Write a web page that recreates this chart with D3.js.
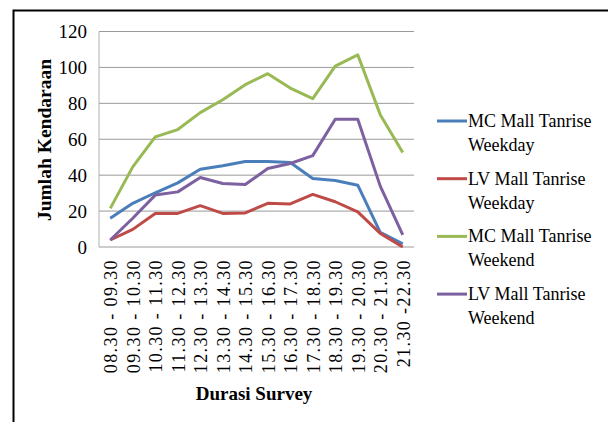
<!DOCTYPE html>
<html><head><meta charset="utf-8">
<script src="https://cdn.jsdelivr.net/npm/d3@7"></script>
<style>html,body{margin:0;padding:0;background:#fff;}svg{display:block;}
svg text{font-family:"Liberation Serif","Times New Roman",serif;}</style>
</head><body>
<script>
const categories = ["08.30 - 09.30","09.30 - 10.30","10.30 - 11.30","11.30 - 12.30","12.30 - 13.30","13.30 - 14.30","14.30 - 15.30","15.30 - 16.30","16.30 - 17.30","17.30 - 18.30","18.30 - 19.30","19.30 - 20.30","20.30 - 21.30","21.30 -22.30"];
const mcWeekday = [16, 24.3, 30.2, 35.7, 43.3, 45.2, 47.6, 47.6, 47, 38.1, 37, 34.4, 8.1, 1.7];
const lvWeekday = [3.9, 9.8, 18.7, 18.7, 23, 18.7, 19, 24.3, 24, 29.3, 25.2, 19.6, 7.6, 0];
const mcWeekend = [21.5, 44.6, 61.3, 65.4, 74.8, 82, 90.4, 96.5, 88.5, 82.6, 100.7, 107, 73.7, 52.6];
const lvWeekend = [3.9, 16, 28.9, 30.7, 38.7, 35.4, 34.8, 43.7, 46.5, 50.9, 71.1, 71.1, 33.9, 6.7];
const seriesNames = [["MC Mall Tanrise","Weekday"],["LV Mall Tanrise","Weekday"],["MC Mall Tanrise","Weekend"],["LV Mall Tanrise","Weekend"]];
const seriesColors = ["#4A7EBB","#BE4B48","#98B954","#7D60A0"];
const yTicks = [0,20,40,60,80,100,120];
const series = [mcWeekday, lvWeekday, mcWeekend, lvWeekend];

(function(){
const W = 608, H = 422;
const svg = d3.select("body").append("svg").attr("width", W).attr("height", H);
svg.append("rect").attr("width", W).attr("height", H).attr("fill", "#fff");
// frame
svg.append("path").attr("d", `M13.5,${H} V10.5 H${W}`).attr("fill","none").attr("stroke","#000").attr("stroke-width",2);

const pLeft = 99, pRight = 414, pTop = 31.5, pBottom = 247;
const x = d3.scalePoint().domain(categories).range([pLeft, pRight]).padding(0.5);
const y = d3.scaleLinear().domain([0,120]).range([pBottom, pTop]);

// gridlines
svg.append("g").selectAll("line").data(yTicks).join("line")
  .attr("x1", pLeft).attr("x2", pRight).attr("y1", d=>y(d)).attr("y2", d=>y(d))
  .attr("stroke", "#9a9a9a").attr("stroke-width", 1);
svg.append("line").attr("x1", pLeft).attr("x2", pLeft).attr("y1", pTop).attr("y2", pBottom)
  .attr("stroke", "#b0b0b0").attr("stroke-width", 1);

// y axis labels
const yAxis = d3.axisLeft(y).tickValues(yTicks).tickSize(0).tickPadding(12);
const gy = svg.append("g").attr("transform", `translate(${pLeft},0)`).call(yAxis);
gy.select(".domain").remove();
gy.attr("font-family", null).attr("font-size", null);
gy.selectAll("text").style("font-size", "19px").attr("fill", "#000");

// x axis labels
const xAxis = d3.axisBottom(x).tickSize(0).tickPadding(0);
const gx = svg.append("g").attr("transform", `translate(0,${pBottom})`).call(xAxis);
gx.select(".domain").remove();
gx.attr("font-family", null).attr("font-size", null);
gx.selectAll("text")
  .style("font-size", "18px").style("letter-spacing", "1.4px").attr("fill", "#000")
  .attr("text-anchor", "end").attr("dy", "0.35em")
  .attr("transform", "translate(0,12) rotate(-90)")
  .attr("x", 0).attr("y", 0);

// axis titles
svg.append("text").attr("transform", `translate(51,140) rotate(-90)`)
  .attr("text-anchor","middle").attr("font-weight","bold")
  .style("font-size", "19.5px").text("Jumlah Kendaraan");
svg.append("text").attr("x", 254).attr("y", 400)
  .attr("text-anchor","middle").attr("font-weight","bold")
  .style("font-size", "19px").text("Durasi Survey");

// lines
const line = d3.line().x((d,i)=>x(categories[i])).y(d=>y(d));
svg.append("g").selectAll("path").data(series).join("path")
  .attr("d", d=>line(d)).attr("fill","none")
  .attr("stroke", (d,i)=>seriesColors[i]).attr("stroke-width", 3)
  .attr("stroke-linejoin","round");

// legend
const lg = svg.append("g").selectAll("g").data(seriesNames).join("g")
  .attr("transform", (d,i)=>`translate(437,${121 + i*57.7})`);
lg.append("line").attr("x1",0).attr("x2",30).attr("y1",0).attr("y2",0)
  .attr("stroke",(d,i)=>seriesColors[i]).attr("stroke-width",3);
lg.append("text").attr("x",31).attr("y",6).style("font-size","18px")
  .text(d=>d[0]);
lg.append("text").attr("x",31).attr("y",30).style("font-size","18px")
  .text(d=>d[1]);
})();
</script>
</body></html>
